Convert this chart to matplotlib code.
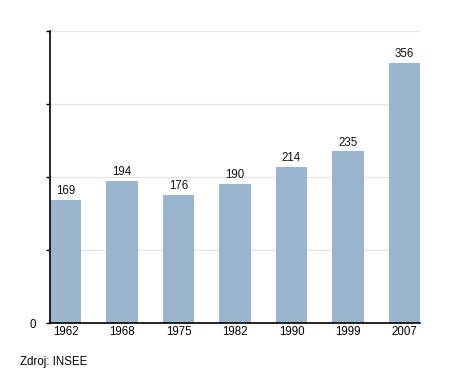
import matplotlib
matplotlib.use("Agg")
import matplotlib.pyplot as plt

years = ["1962", "1968", "1975", "1982", "1990", "1999", "2007"]
population = [169, 194, 176, 190, 214, 235, 356]
y_ticks = [0, 100, 200, 300, 400]
y_tick_labels = ["0", "", "", "", ""]

plt.rcParams['font.family'] = ['Liberation Sans', 'DejaVu Sans']

fig = plt.figure(figsize=(4.5, 3.73), dpi=100)
ax = fig.add_axes([50/450, 1-323/373, 370/450, (323-31)/373])

x = list(range(len(years)))
w = 0.55
ax.bar(x, population, width=w, color="#9bb4cd", zorder=2)
for xi, v in zip(x, population):
    ax.text(xi, v + 4, str(v), ha="center", va="bottom", fontsize=8.3, color="#111111")

ax.set_xlim(-w/2, len(years) - 1 + w/2)
ax.set_ylim(0, 400)
ax.set_yticks(y_ticks)
ax.set_yticklabels(y_tick_labels, fontsize=8.3)
ax.set_xticks(x)
ax.set_xticklabels(years, fontsize=8.3)
ax.tick_params(axis="x", length=0, pad=2)
ax.tick_params(axis="y", length=3, width=1, direction="out", pad=7)
ax.yaxis.grid(True, color="#e3e3e3", linewidth=0.8, zorder=0)
for s in ["top", "right"]:
    ax.spines[s].set_visible(False)
ax.spines["left"].set_linewidth(1.2)
ax.spines["bottom"].set_linewidth(1.2)

fig.text(20/450, 1-362/373, "Zdroj: INSEE", fontsize=8.3, ha="left", va="center")

fig.savefig("out.png", dpi=100)
